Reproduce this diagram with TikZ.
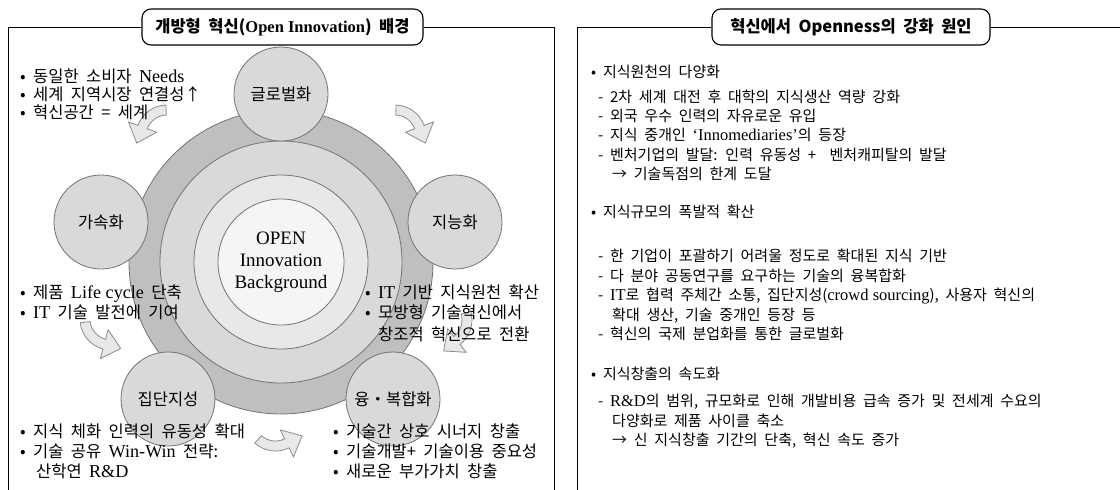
\documentclass[tikz,border=0pt]{standalone}
\usepackage{fontspec}
\setmainfont{Noto Sans CJK KR}[WordSpace=2]
\newfontfamily\latin{Liberation Serif}[Scale=1.1]
\newfontfamily\corefont{Liberation Serif}
\newcommand{\en}[1]{{\latin #1}}

\definecolor{ringout}{gray}{0.75}
\definecolor{ringmid}{gray}{0.85}
\definecolor{ringin}{gray}{0.91}
\definecolor{coregray}{gray}{0.96}
\definecolor{satgray}{gray}{0.85}
\definecolor{edgegray}{gray}{0.45}
\definecolor{arrgray}{gray}{0.91}
\definecolor{arredge}{gray}{0.55}

\tikzset{
  txt/.style={anchor=base west,inner sep=0pt,font=\fontsize{15}{18}\selectfont},
  ltxt/.style={txt,font=\fontsize{16.5}{20}\selectfont},
  ring/.style={circle,draw=edgegray,line width=0.8pt,inner sep=0pt},
  sat/.style={circle,draw=edgegray,fill=satgray,line width=0.8pt,minimum size=94pt,inner sep=0pt,font=\fontsize{16.5}{18}\selectfont},
  ttl/.style={draw,fill=white,rounded corners=9pt,line width=1.1pt,minimum height=36pt,inner sep=0pt,font=\bfseries\fontsize{16.5}{18}\selectfont},
  bendarrow/.pic={
    \filldraw[fill=arrgray,draw=arredge,line width=0.8pt] (128:31) arc[start angle=128,end angle=60,radius=31]
      -- (60:41) -- (27.72,14.02) -- (60:11) -- (60:21) arc[start angle=60,end angle=128,radius=21] -- cycle;
  }
}

\begin{document}
\begin{tikzpicture}[x=1pt,y=1pt]
\useasboundingbox (0,0) rectangle (1120,-490);

% left panel
\node[ttl,minimum width=281pt] (lt) at (282.5,-27) {개방형 혁신({\corefont Open Innovation}) 배경};
\draw[line width=1pt] (lt.west) -| (8,-490);
\draw[line width=1pt] (lt.east) -| (554,-490);

% arrows behind everything
\pic[rotate=40,xscale=-1] at (167,-136) {bendarrow};
\pic[rotate=-40] at (395,-136) {bendarrow};
\pic[rotate=-112] at (441,-320) {bendarrow};
\pic[rotate=176,xscale=-1] at (275.5,-420) {bendarrow};
\pic[rotate=135,xscale=-1] at (111,-319) {bendarrow};

% rings
\node[ring,fill=ringout,minimum size=304pt] (r1) at (281,-262) {};
\node[ring,fill=ringmid,minimum size=242pt] (r2) at (r1) {};
\node[ring,fill=ringin,minimum size=174pt] (r3) at (r1) {};
\node[ring,fill=coregray,minimum size=126pt,align=center,font=\corefont\fontsize{19}{22}\selectfont] (core) at (r1) {OPEN\\Innovation\\Background};

% satellites
\node[sat] (glob) at (281,-94) {글로벌화};
\node[sat] (accel) at (101,-222) {가속화};
\node[sat] (intel) at (455,-222) {지능화};
\node[sat] (collect) at (168,-399) {집단지성};
\node[sat] (conv) at (393,-399) {융・복합화};

\node[ltxt] (g1) at (20,-82) {• 동일한 소비자 \en{Needs}};
\node[ltxt] (g2) at (20,-100) {• 세계 지역시장 연결성↑};
\node[ltxt] (g3) at (20,-118) {• 혁신공간 = 세계};
\node[ltxt] (a1) at (20,-298) {• 제품 \en{Life cycle} 단축};
\node[ltxt] (a2) at (20,-318) {• \en{IT} 기술 발전에 기여};
\node[ltxt] (i1) at (365,-298) {• \en{IT} 기반 지식원천 확산};
\node[ltxt] (i2) at (365,-318) {• 모방형 기술혁신에서};
\node[ltxt] (i3) at (378,-340) {창조적 혁신으로 전환};
\node[ltxt] (c1) at (20,-437) {• 지식 체화 인력의 유동성 확대};
\node[ltxt] (c2) at (20,-457) {• 기술 공유 \en{Win-Win} 전략:};
\node[ltxt] (c3) at (36,-477) {산학연 \en{R\&D}};
\node[ltxt] (v1) at (333,-437) {• 기술간 상호 시너지 창출};
\node[ltxt] (v2) at (333,-457) {• 기술개발+ 기술이용 중요성};
\node[ltxt] (v3) at (333,-477) {• 새로운 부가가치 창출};

% right panel
\node[ttl,minimum width=278pt] (rt) at (851,-27) {혁신에서 Openness의 강화 원인};
\draw[line width=1pt] (rt.west) -| (577,-490);
\draw[line width=1pt] (rt.east) -- (1120,-27);

\node[txt] (s1) at (591,-77.5) {• 지식원천의 다양화};
\node[txt] (s1a) at (598,-102.5) {- 2차 세계 대전 후 대학의 지식생산 역량 강화};
\node[txt] (s1b) at (598,-121.5) {- 외국 우수 인력의 자유로운 유입};
\node[txt] (s1c) at (598,-140.5) {- 지식 중개인 \en{‘Innomediaries’}의 등장};
\node[txt] (s1d) at (598,-160.5) {- 벤처기업의 발달: 인력 유동성 +\ \ 벤처캐피탈의 발달};
\node[txt] (s1e) at (612,-179.5) {→ 기술독점의 한계 도달};
\node[txt] (s2) at (591,-217.5) {• 지식규모의 폭발적 확산};
\node[txt] (s2a) at (598,-261.5) {- 한 기업이 포괄하기 어려울 정도로 확대된 지식 기반};
\node[txt] (s2b) at (598,-281.5) {- 다 분야 공동연구를 요구하는 기술의 융복합화};
\node[txt] (s2c) at (598,-300.5) {- \en{IT}로 협력 주체간 소통, 집단지성(\en{crowd sourcing}), 사용자 혁신의};
\node[txt] (s2d) at (612,-320.5) {확대 생산, 기술 중개인 등장 등};
\node[txt] (s2e) at (598,-339.5) {- 혁신의 국제 분업화를 통한 글로벌화};
\node[txt] (s3) at (591,-379.5) {• 지식창출의 속도화};
\node[txt] (s3a) at (598,-406.5) {- \en{R\&D}의 범위, 규모화로 인해 개발비용 급속 증가 및 전세계 수요의};
\node[txt] (s3b) at (612,-426.5) {다양화로 제품 사이클 축소};
\node[txt] (s3c) at (612,-445.5) {→ 신 지식창출 기간의 단축, 혁신 속도 증가};
\end{tikzpicture}
\end{document}
